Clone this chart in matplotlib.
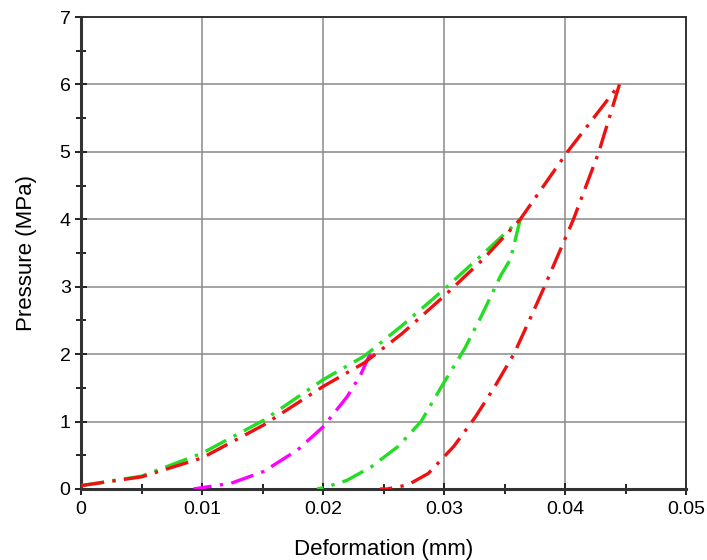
import matplotlib
matplotlib.use("Agg")
import matplotlib.pyplot as plt
from matplotlib.ticker import MultipleLocator

plt.rcParams['font.family'] = ['Liberation Sans', 'DejaVu Sans']

# Loading / unloading cycles (deformation in mm, pressure in MPa)
red_load_x = [0.0, 0.005, 0.010, 0.0151, 0.020, 0.0234, 0.0265, 0.030, 0.0333, 0.0363,
              0.0402, 0.0445]
red_load_y = [0.05, 0.18, 0.46, 0.95, 1.52, 1.87, 2.30, 2.86, 3.42, 4.00, 5.00, 6.00]
red_unload_x = [0.0445, 0.0428, 0.0407, 0.0383, 0.0372, 0.0358, 0.0342, 0.0326,
                0.0308, 0.0287, 0.0270, 0.0253, 0.0247]
red_unload_y = [6.00, 5.00, 4.00, 3.00, 2.56, 2.01, 1.52, 1.07, 0.63, 0.23, 0.06, 0.00, 0.00]

green_load_x = [0.0, 0.005, 0.010, 0.0151, 0.020, 0.0234, 0.0265, 0.030, 0.0333, 0.0363]
green_load_y = [0.05, 0.19, 0.53, 1.02, 1.62, 1.97, 2.42, 2.96, 3.50, 4.00]
green_unload_x = [0.0363, 0.0355, 0.0347, 0.0331, 0.0317, 0.0298, 0.0281, 0.0262,
                  0.0240, 0.0220, 0.0201, 0.0195]
green_unload_y = [4.00, 3.41, 3.17, 2.57, 2.08, 1.52, 1.00, 0.63, 0.33, 0.13, 0.02, 0.00]

magenta_unload_x = [0.0239, 0.0231, 0.0220, 0.0200, 0.0179, 0.0151, 0.0124, 0.0093]
magenta_unload_y = [2.01, 1.69, 1.37, 0.92, 0.58, 0.26, 0.085, 0.00]

fig = plt.figure(figsize=(7.07, 5.6), dpi=100)
ax = fig.add_axes([0.1146, 0.1268, 0.8557, 0.8428])

dash = (0, (7, 2.5, 1, 2.5))
lw = 2.4
ax.plot(magenta_unload_x, magenta_unload_y, color='#ff00ff', lw=lw, ls=dash, zorder=3)
ax.plot(green_load_x, green_load_y, color='#22dd22', lw=lw, ls=dash, zorder=3)
ax.plot(green_unload_x, green_unload_y, color='#22dd22', lw=lw, ls=dash, zorder=3)
ax.plot(red_load_x, red_load_y, color='#ee1111', lw=lw, ls=dash, zorder=4)
ax.plot(red_unload_x, red_unload_y, color='#ee1111', lw=lw, ls=dash, zorder=4)

ax.set_xlim(0, 0.05)
ax.set_ylim(0, 7)
ax.xaxis.set_major_locator(MultipleLocator(0.01))
ax.xaxis.set_minor_locator(MultipleLocator(0.005))
ax.yaxis.set_major_locator(MultipleLocator(1))
ax.yaxis.set_minor_locator(MultipleLocator(0.5))
ax.set_xticks([0, 0.01, 0.02, 0.03, 0.04, 0.05])
ax.set_xticklabels(['0', '0.01', '0.02', '0.03', '0.04', '0.05'])

ax.grid(True, which='major', color='#8a8a8a', lw=1.1)
ax.set_axisbelow(True)
for s in ax.spines.values():
    s.set_color('#333333')
ax.spines['left'].set_linewidth(2.2)
ax.spines['bottom'].set_linewidth(2.2)
ax.spines['top'].set_linewidth(1.4)
ax.spines['right'].set_linewidth(1.4)

ax.tick_params(which='major', direction='inout', length=9, width=1.4, color='#222222',
               labelsize=14, top=False, right=False)
ax.tick_params(which='minor', direction='inout', length=7, width=1.4, color='#222222',
               top=False, right=False)
ax.tick_params(axis='x', pad=4)
ax.tick_params(axis='y', pad=3)

ax.set_xlabel('Deformation (mm)', fontsize=16, labelpad=15)
ax.set_ylabel('Pressure (MPa)', fontsize=16, labelpad=16)

fig.savefig('out.png', dpi=100)
